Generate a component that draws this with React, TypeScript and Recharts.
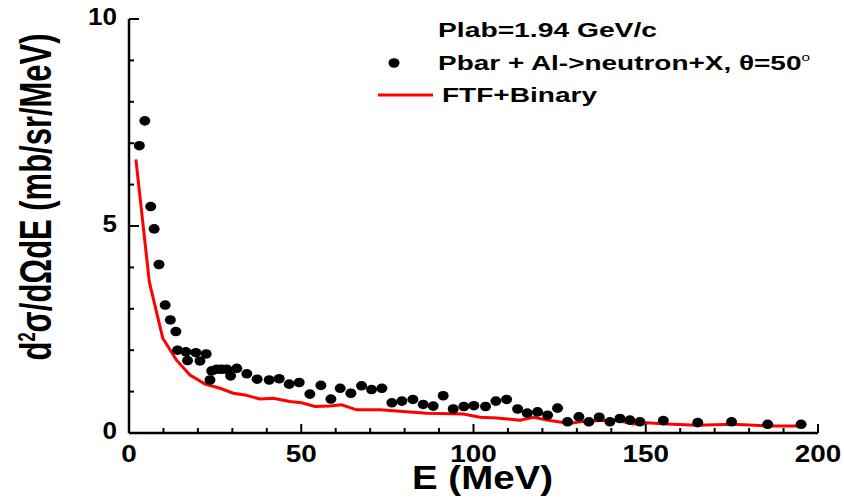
import React from 'react';
import { ComposedChart, Scatter, Line, XAxis, YAxis, Customized } from 'recharts';

// measured points (Pbar + Al -> n + X, theta = 50 deg)
const expE = [
  3.0, 4.6, 6.3, 7.3, 8.7, 10.5, 12.0, 13.6, 14.1, 16.5, 17.0, 19.4, 20.6, 22.4, 23.5, 24.0,
  25.5, 26.9, 28.4, 29.5, 31.3, 34.2, 37.2, 40.7, 43.6, 46.5, 49.4, 52.5, 55.7, 58.6, 61.3,
  64.4, 67.5, 70.4, 73.4, 76.3, 79.2, 82.4, 85.4, 88.3, 91.2, 94.1, 97.2, 100.1, 103.5, 106.5,
  109.6, 112.8, 115.6, 118.6, 121.5, 124.4, 127.3, 130.6, 133.5, 136.5, 139.6, 142.5, 145.4,
  148.3, 155.1, 165.1, 174.9, 185.4, 195.1,
];
const expXs = [
  6.94, 7.54, 5.47, 4.93, 4.07, 3.09, 2.73, 2.45, 2.0, 1.96, 1.75, 1.94, 1.74, 1.91, 1.28, 1.5,
  1.54, 1.54, 1.54, 1.38, 1.56, 1.43, 1.3, 1.28, 1.31, 1.18, 1.22, 0.94, 1.15, 0.82, 1.08,
  0.96, 1.14, 1.05, 1.08, 0.73, 0.77, 0.81, 0.69, 0.65, 0.9, 0.58, 0.64, 0.66, 0.64, 0.77,
  0.81, 0.58, 0.48, 0.51, 0.43, 0.6, 0.27, 0.39, 0.27, 0.38, 0.27, 0.35, 0.31,
  0.27, 0.3, 0.25, 0.27, 0.21, 0.21,
];

// FTF+Binary
const modelE = [
  2.0, 5.9, 9.8, 13.8, 17.7, 22.1, 26.4, 30.3, 33.7, 38.0, 41.9, 46.7, 50.1, 54.0, 58.3, 61.7,
  66.1, 72.9, 79.6, 86.4, 97.0, 101.9, 106.7, 113.5, 117.4, 122.2, 128.0, 130.9, 136.7, 141.6,
  146.4, 150.3, 156.1, 164.8, 175.4, 185.1, 194.3,
];
const modelXs = [
  6.61, 3.65, 2.29, 1.76, 1.4, 1.18, 1.08, 0.96, 0.92, 0.82, 0.84, 0.76, 0.73, 0.64, 0.65, 0.68,
  0.56, 0.56, 0.52, 0.48, 0.46, 0.38, 0.36, 0.31, 0.38, 0.3, 0.23, 0.27, 0.3, 0.31,
  0.22, 0.25, 0.22, 0.19, 0.21, 0.17, 0.17,
];

const xTicks = [0, 10, 20, 30, 40, 50, 60, 70, 80, 90, 100, 110, 120, 130, 140, 150, 160, 170, 180, 190, 200];
const xLabels = [0, 50, 100, 150, 200];
const yTicks = [0, 1, 2, 3, 4, 5, 6, 7, 8, 9, 10];
const yLabels = [0, 5, 10];

const expData = expE.map((x, i) => ({ x, y: expXs[i] }));
const modelData = modelE.map((x, i) => ({ x, y: modelXs[i] }));

const FONT = 'Arial, "Liberation Sans", sans-serif';

const XTick = (props: any) => {
  const { x, y, payload } = props;
  const major = xLabels.includes(payload.value);
  const s = String(payload.value);
  return (
    <g>
      <line x1={x} y1={y} x2={x} y2={y - (major ? 9 : 5)} stroke="#000" strokeWidth={2} />
      {major && (
        <text x={x} y={y + 29} textAnchor="middle" fontFamily={FONT} fontWeight="bold" fontSize={24}
          fill="#000" textLength={s.length * 15.5} lengthAdjust="spacingAndGlyphs">{s}</text>
      )}
    </g>
  );
};

const YTick = (props: any) => {
  const { x, y, payload } = props;
  const major = yLabels.includes(payload.value);
  const s = String(payload.value);
  return (
    <g>
      <line x1={x} y1={y} x2={x + (major ? 10 : 5)} y2={y} stroke="#000" strokeWidth={2} />
      {major && (
        <text x={x - 12} y={y + 6} textAnchor="end" fontFamily={FONT} fontWeight="bold" fontSize={24}
          fill="#000" textLength={s.length * 14.5} lengthAdjust="spacingAndGlyphs">{s}</text>
      )}
    </g>
  );
};

const Dot = (props: any) => <ellipse cx={props.cx} cy={props.cy} rx={5.5} ry={4.8} fill="#000" />;

const Extras = () => (
  <g fontFamily={FONT} fontWeight="bold" fill="#000">
    <text x={438} y={37} fontSize={20} textLength={219} lengthAdjust="spacingAndGlyphs">Plab=1.94 GeV/c</text>
    <ellipse cx={394} cy={63} rx={5.5} ry={4.8} fill="#000" />
    <text x={438} y={70} fontSize={20} textLength={372} lengthAdjust="spacingAndGlyphs">
      Pbar + Al-&gt;neutron+X, θ=50<tspan dy={-9} fontSize={11} fontWeight="normal">o</tspan>
    </text>
    <line x1={378} y1={95} x2={433} y2={95} stroke="#ff0000" strokeWidth={3} />
    <text x={442} y={102} fontSize={21} textLength={155} lengthAdjust="spacingAndGlyphs">FTF+Binary</text>
    <text x={412} y={489} fontSize={34} textLength={141} lengthAdjust="spacingAndGlyphs">E (MeV)</text>
    <text transform="translate(51,197) rotate(-90)" textAnchor="middle" fontSize={45}
      textLength={327} lengthAdjust="spacingAndGlyphs">
      d<tspan dy={-16} fontSize={24}>2</tspan><tspan dy={16}>σ/dΩdE (mb/sr/MeV)</tspan>
    </text>
  </g>
);

export default function App() {
  return (
    <div style={{ position: 'absolute', left: 0, top: 0, background: '#fff' }}>
      <ComposedChart width={844} height={498} margin={{ top: 19, right: 26, bottom: 0, left: 0 }}>
        <XAxis dataKey="x" type="number" domain={[0, 200]} ticks={xTicks} interval={0}
          height={65} tickSize={0} tickMargin={0} tickLine={false} tick={<XTick />}
          axisLine={{ stroke: '#000', strokeWidth: 2.5 }} allowDataOverflow />
        <YAxis dataKey="y" type="number" domain={[0, 10]} ticks={yTicks} interval={0}
          width={129} tickSize={0} tickMargin={0} tickLine={false} tick={<YTick />}
          axisLine={{ stroke: '#000', strokeWidth: 2.5 }} allowDataOverflow />
        <Line data={modelData} dataKey="y" type="linear" stroke="#ff0000" strokeWidth={3}
          dot={false} activeDot={false} isAnimationActive={false} />
        <Scatter data={expData} dataKey="y" shape={<Dot />} isAnimationActive={false} />
        <Customized component={Extras} />
      </ComposedChart>
    </div>
  );
}
